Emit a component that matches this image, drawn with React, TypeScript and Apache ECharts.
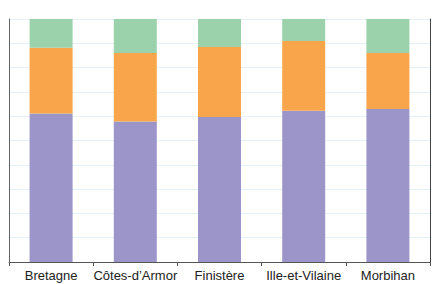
import React, { useEffect, useRef } from "react";
import * as echarts from "echarts";

const categories = ["Bretagne", "Côtes-d’Armor", "Finistère", "Ille-et-Vilaine", "Morbihan"];
const purpleValues = [61.1, 57.8, 59.7, 62.2, 63.0];
const orangeValues = [27.1, 28.2, 28.8, 28.7, 23.0];
const greenValues = [11.8, 14.0, 11.9, 9.1, 14.0];
const yTicks = { min: 0, max: 100, interval: 10 };

export default function App() {
  const ref = useRef<HTMLDivElement>(null);
  useEffect(() => {
    if (!ref.current) return;
    const chart = echarts.init(ref.current, null, { renderer: "svg" });
    const barBase = { type: "bar" as const, stack: "total", barWidth: 43 };
    chart.setOption({
      animation: false,
      grid: { left: 9, right: 6, top: 19, bottom: 22, containLabel: false },
      xAxis: {
        type: "category",
        data: categories,
        axisLine: { show: true, lineStyle: { color: "#555", width: 1 } },
        axisTick: { show: true, length: 4, lineStyle: { color: "#555" } },
        axisLabel: {
          color: "#222",
          fontSize: 13,
          fontFamily: "Liberation Sans, Arial, sans-serif",
          margin: 7,
          interval: 0,
        },
        splitLine: { show: false },
      },
      yAxis: [
        {
          type: "value",
          min: yTicks.min,
          max: yTicks.max,
          interval: yTicks.interval,
          position: "left",
          axisLine: { show: true, lineStyle: { color: "#666", width: 1 } },
          axisTick: { show: false },
          axisLabel: { show: false },
          splitLine: { show: true, lineStyle: { color: "#e4f1f9", width: 1 } },
        },
        {
          type: "value",
          min: yTicks.min,
          max: yTicks.max,
          interval: yTicks.interval,
          position: "right",
          axisLine: { show: true, lineStyle: { color: "#444", width: 1 } },
          axisTick: { show: false },
          axisLabel: { show: false },
          splitLine: { show: false },
        },
      ],
      series: [
        { ...barBase, name: "A", data: purpleValues, itemStyle: { color: "#9b95c9" } },
        { ...barBase, name: "B", data: orangeValues, itemStyle: { color: "#f9a54b" } },
        { ...barBase, name: "C", data: greenValues, itemStyle: { color: "#9bd2ac" } },
      ],
    });
    return () => chart.dispose();
  }, []);
  return (
    <div
      ref={ref}
      style={{ width: 436, height: 284, position: "absolute", left: 0, top: 0 }}
    />
  );
}
